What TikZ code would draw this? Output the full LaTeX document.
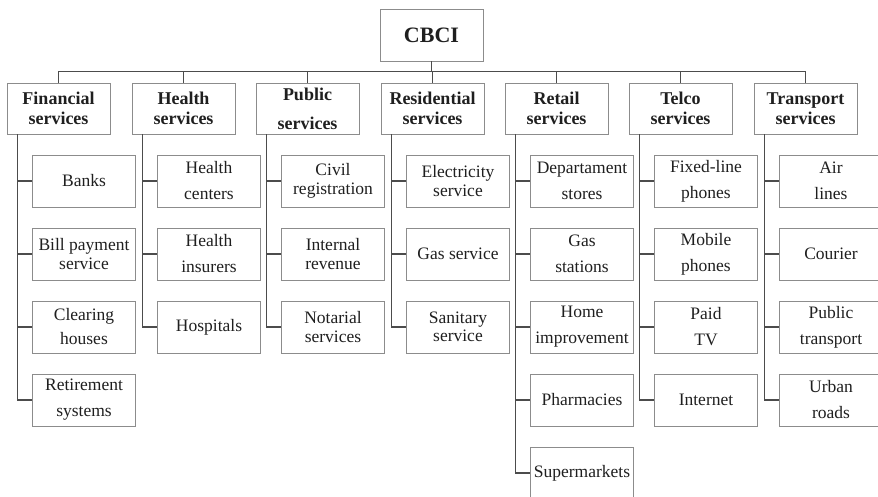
\documentclass[tikz,border=0pt]{standalone}
\usepackage{fontspec}
\setmainfont{Liberation Serif}
\begin{document}
\begin{tikzpicture}[x=1pt,y=-1pt,
  box/.style={draw=black!45,line width=0.9pt,minimum width=103pt,minimum height=52pt,inner sep=0pt,align=center,text=black!88},
  top/.style={box,font=\fontsize{22}{24}\selectfont\bfseries},
  cat/.style={box,minimum height=51pt,font=\fontsize{18}{20}\selectfont\bfseries},
  cht/.style={box,font=\fontsize{17.5}{18.5}\selectfont},
  chl/.style={box,font=\fontsize{17.5}{26}\selectfont},
  conn/.style={draw=black!70,line width=1.1pt}]
\useasboundingbox (0,0) rectangle (878,496);
\clip (0,0) rectangle (878,496);
% root
\node[top] (cbci) at (431.5,35) {CBCI};
% categories
\node[cat] (fin) at (58.5,108.5) {Financial\\services};
\node[cat] (hea) at (183.5,108.5) {Health\\services};
\node[cat,font=\fontsize{18}{29}\selectfont\bfseries] (pub) at (307.5,108.5) {Public\\services};
\node[cat] (res) at (432.5,108.5) {Residential\\services};
\node[cat] (ret) at (556.5,108.5) {Retail\\services};
\node[cat] (tel) at (680.5,108.5) {Telco\\services};
\node[cat] (tra) at (805.5,108.5) {Transport\\services};
\foreach \c in {fin,hea,pub,res,ret,tel,tra}
  \draw[conn] (\c.north) -- ++(0,-11) -| (cbci.south);
% Financial
\node[cht] (f1) at (84,181) {Banks};
\node[cht] (f2) at (84,254) {Bill payment\\service};
\node[chl,font=\fontsize{17.5}{24}\selectfont] (f3) at (84,327) {Clearing\\houses};
\node[chl] (f4) at (84,400) {Retirement\\systems};
% Health
\node[chl] (h1) at (209,181) {Health\\centers};
\node[chl] (h2) at (209,254) {Health\\insurers};
\node[cht] (h3) at (209,327) {Hospitals};
% Public
\node[cht] (p1) at (333,181) {Civil\\registration};
\node[cht] (p2) at (333,254) {Internal\\revenue};
\node[cht] (p3) at (333,327) {Notarial\\services};
% Residential
\node[cht] (r1) at (458,181) {Electricity\\service};
\node[cht] (r2) at (458,254) {Gas service};
\node[cht] (r3) at (458,327) {Sanitary\\service};
% Retail
\node[chl] (s1) at (582,181) {Departament\\stores};
\node[chl] (s2) at (582,254) {Gas\\stations};
\node[chl] (s3) at (582,327) {Home\\improvement};
\node[cht] (s4) at (582,400) {Pharmacies};
\node[cht] (s5) at (582,473) {Supermarkets};
% Telco
\node[chl] (t1) at (706,181) {Fixed-line\\phones};
\node[chl] (t2) at (706,254) {Mobile\\phones};
\node[chl] (t3) at (706,327) {Paid\\TV};
\node[cht] (t4) at (706,400) {Internet};
% Transport
\node[chl] (u1) at (831,181) {Air\\lines};
\node[cht] (u2) at (831,254) {Courier};
\node[chl] (u3) at (831,327) {Public\\transport};
\node[chl] (u4) at (831,400) {Urban\\roads};
% trunks
\foreach \p/\kids in {fin/{f1,f2,f3,f4},hea/{h1,h2,h3},pub/{p1,p2,p3},res/{r1,r2,r3},ret/{s1,s2,s3,s4,s5},tel/{t1,t2,t3,t4},tra/{u1,u2,u3,u4}}
  \foreach \k in \kids
    \draw[conn] ([xshift=10.5pt]\p.south west) |- (\k.west);
\end{tikzpicture}
\end{document}
